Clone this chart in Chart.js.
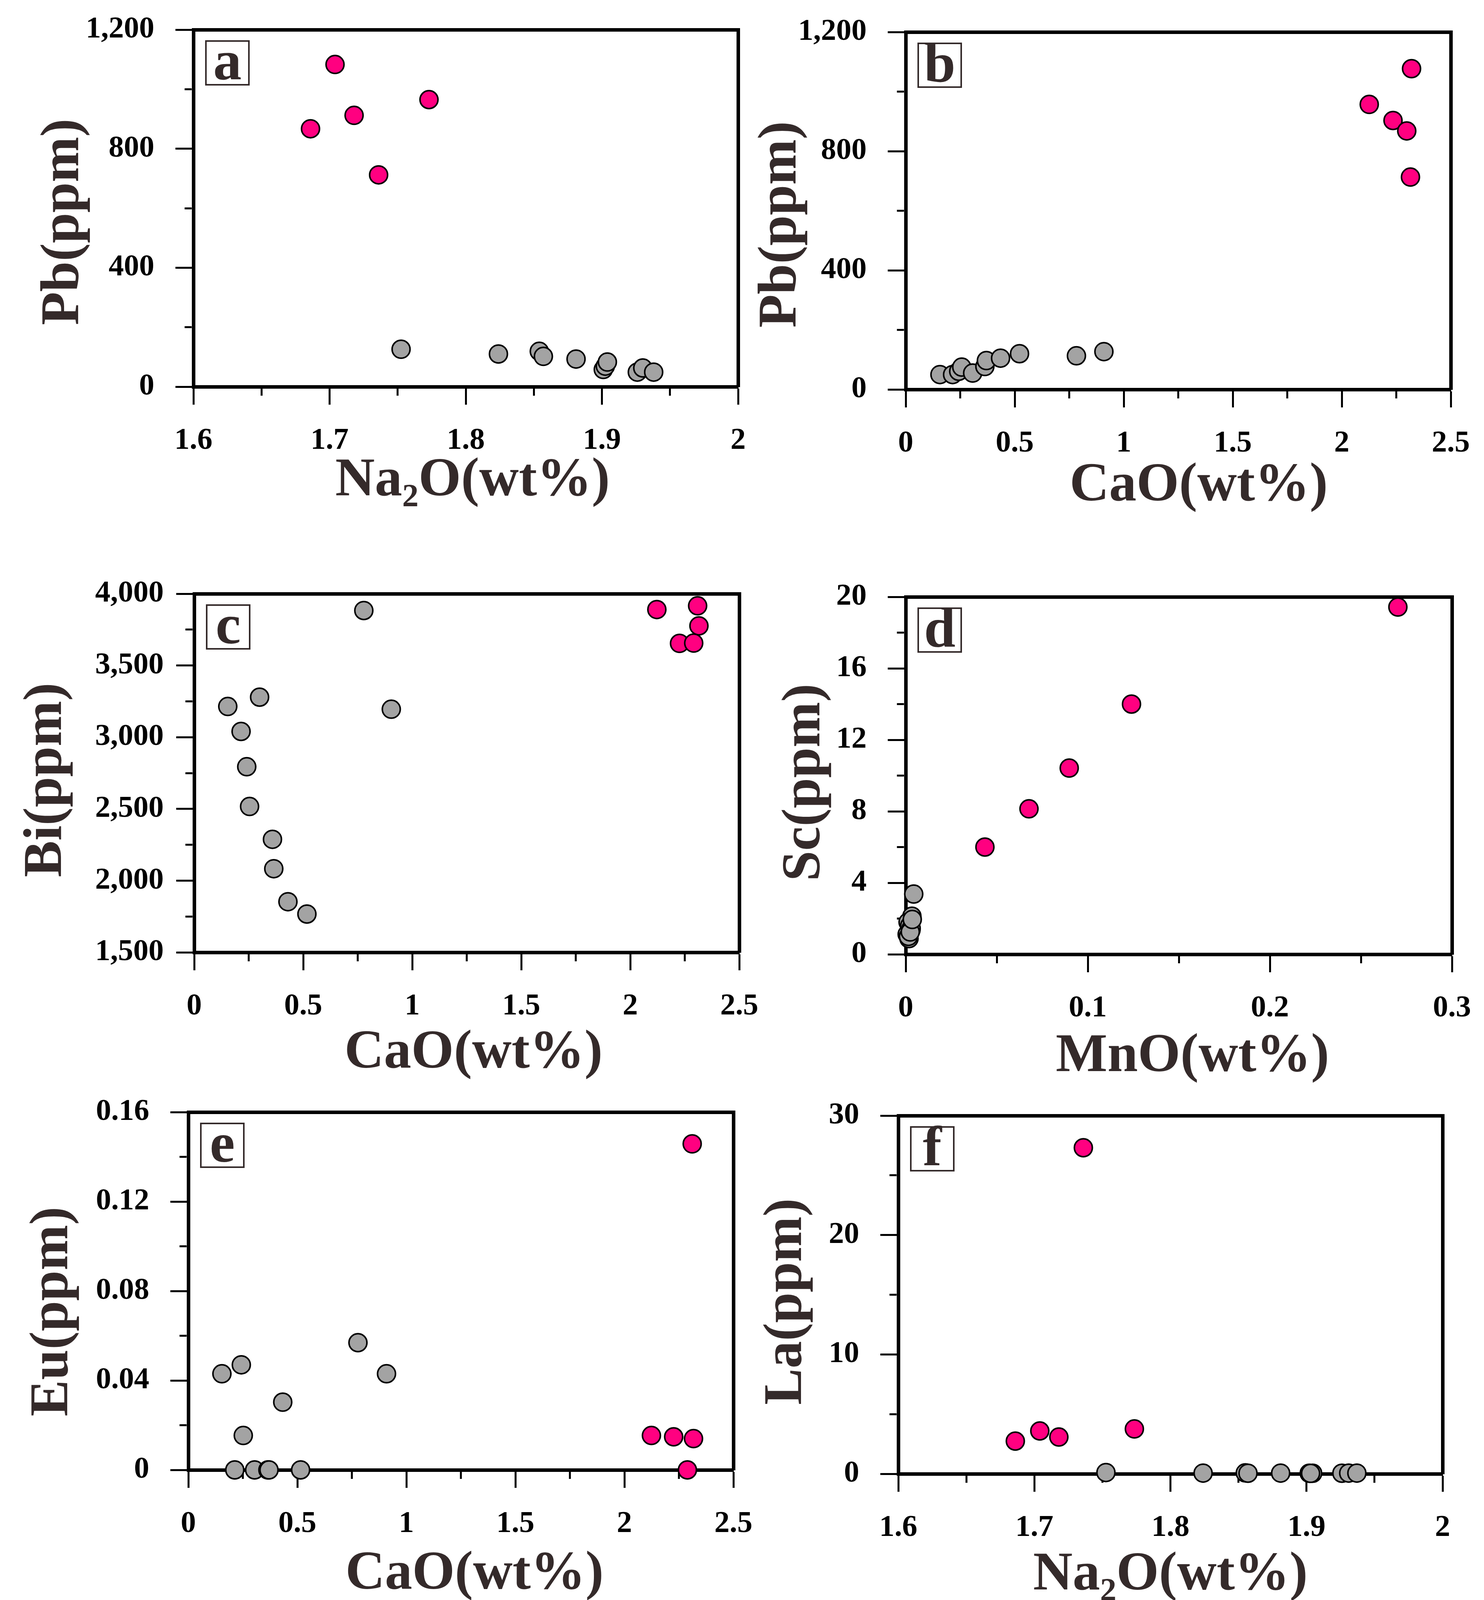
<!DOCTYPE html>
<html lang="en">
<head>
<meta charset="UTF-8">
<title>Pb, Bi, Sc, Eu, La against major oxides</title>
<script src="https://cdn.jsdelivr.net/npm/chart.js"></script>
<style>
  html, body { margin: 0; padding: 0; background: #fff; overflow: hidden; }
  body { width: 3798px; height: 100vh; position: relative; }
  canvas { position: absolute; }
</style>
</head>
<body>
<canvas id="chartA"></canvas>
<canvas id="chartB"></canvas>
<canvas id="chartC"></canvas>
<canvas id="chartD"></canvas>
<canvas id="chartE"></canvas>
<canvas id="chartF"></canvas>

<script>
// values (gray = one sample group, pink = the other)

// tick labels per axis (minor ticks sit halfway between them)
const ticksNa2O = [1.6, 1.7, 1.8, 1.9, 2];
const ticksCaO  = [0, 0.5, 1, 1.5, 2, 2.5];
const ticksMnO  = [0, 0.1, 0.2, 0.3];
const ticksPb   = [0, 400, 800, 1200];
const ticksBi   = [1500, 2000, 2500, 3000, 3500, 4000];
const ticksSc   = [0, 4, 8, 12, 16, 20];
const ticksEu   = [0, 0.04, 0.08, 0.12, 0.16];
const ticksLa   = [0, 10, 20, 30];

// a: Pb vs Na2O
const aNa2oGray = [1.7525, 1.824, 1.854, 1.857, 1.881, 1.901, 1.9025, 1.904, 1.926, 1.930, 1.938];
const aPbGray   = [126, 110, 119, 102, 93, 58, 69, 83, 49, 63, 49];
const aNa2oPink = [1.686, 1.704, 1.718, 1.736, 1.773];
const aPbPink   = [867, 1083, 912, 712, 965];

// b: Pb vs CaO
const bCaoGray = [0.157, 0.215, 0.243, 0.257, 0.307, 0.363, 0.370, 0.435, 0.522, 0.783, 0.909];
const bPbGray  = [50, 50, 61, 75, 55, 77, 97, 105, 120, 113, 127];
const bCaoPink = [2.320, 2.126, 2.235, 2.298, 2.315];
const bPbPink  = [1077, 957, 903, 868, 713];

// c: Bi vs CaO
const cCaoGray = [0.778, 0.300, 0.154, 0.904, 0.215, 0.241, 0.254, 0.359, 0.365, 0.430, 0.517];
const cBiGray  = [3883, 3279, 3214, 3195, 3040, 2794, 2517, 2288, 2083, 1853, 1767];
const cCaoPink = [2.122, 2.309, 2.315, 2.226, 2.291];
const cBiPink  = [3890, 3916, 3776, 3654, 3656];

// d: Sc vs MnO
const dMnoGray = [0.0044, 0.0034, 0.0013, 0.0029, 0.0018, 0.0008, 0.0022, 0.0030, 0.0015, 0.0025, 0.0036];
const dScGray  = [3.37, 2.13, 1.80, 1.36, 0.88, 1.12, 1.60, 1.45, 1.00, 1.25, 1.95];
const dMnoPink = [0.2703, 0.124, 0.0898, 0.0677, 0.0435];
const dScPink  = [19.43, 14.0, 10.42, 8.14, 6.0];

// e: Eu vs CaO
const eCaoGray = [0.154, 0.243, 0.778, 0.909, 0.433, 0.252, 0.213, 0.304, 0.365, 0.515, 0.370];
const eEuGray  = [0.043, 0.047, 0.0569, 0.043, 0.0303, 0.0154, 0, 0, 0, 0, 0];
const eCaoPink = [2.311, 2.124, 2.226, 2.317, 2.289];
const eEuPink  = [0.1458, 0.0154, 0.0148, 0.0140, 0];

// f: La vs Na2O
const fNa2oGray = [1.7526, 1.824, 1.855, 1.857, 1.881, 1.902, 1.9045, 1.926, 1.931, 1.937, 1.903];
const fLaGray   = [0.11, 0.06, 0.08, 0.05, 0.06, 0.05, 0.05, 0.05, 0.06, 0.06, 0.04];
const fNa2oPink = [1.736, 1.686, 1.704, 1.718, 1.7735];
const fLaPink   = [27.31, 2.74, 3.59, 3.08, 3.76];

const PINK = '#ff0080';
const GRAY = '#a3a3a3';
const INK = '#342a2a';
const SERIF = '"Liberation Serif", "Times New Roman", serif';

// the figure is laid out for 4179px of height; squeeze it if the viewport is shorter
const FIG_H = 4179;
const sy = window.innerHeight > 0 ? Math.min(1, window.innerHeight / FIG_H) : 1;

function pts(xs, ys) {
  return xs.map((x, i) => ({ x: x, y: ys[i] }));
}

function withMinor(labels) {
  const out = [];
  labels.forEach((v, i) => {
    if (i > 0) out.push((labels[i - 1] + v) / 2);
    out.push(v);
  });
  return out;
}

function fmt(v) {
  return Math.abs(v) >= 1000 ? v.toLocaleString('en-US') : String(+v.toFixed(3));
}

// boxed panel letter in the upper left of the plot area
const panelTag = {
  id: 'panelTag',
  afterDatasetsDraw(chart, args, opts) {
    const { ctx, chartArea } = chart;
    const x = chartArea.left + 32, y = chartArea.top + 29;
    ctx.save();
    ctx.strokeStyle = INK;
    ctx.lineWidth = 4;
    ctx.strokeRect(x, y, 110, 112);
    ctx.fillStyle = INK;
    ctx.font = 'bold 145px ' + SERIF;
    ctx.textAlign = 'center';
    ctx.textBaseline = 'alphabetic';
    ctx.fillText(opts.text, x + 55, y + 98);
    ctx.restore();
  }
};

function tickAxis(ticks, horizontal, size, tickPad, title) {
  return {
    type: 'linear',
    position: horizontal ? 'bottom' : 'left',
    min: ticks[0],
    max: ticks[ticks.length - 1],
    afterBuildTicks: s => { s.ticks = withMinor(ticks).map(v => ({ value: v })); },
    afterFit: s => { if (horizontal) s.height = size; else s.width = size; },
    ticks: {
      autoSkip: false,
      maxRotation: 0,
      padding: tickPad,
      color: '#000',
      font: { family: SERIF, size: 78, weight: 'bold' },
      callback: (v, i) => (i % 2 ? '' : fmt(v))
    },
    grid: {
      drawOnChartArea: false,
      tickLength: 46,
      tickWidth: 5,
      tickColor: '#000',
      // minor ticks: only the part next to the axis line is drawn
      tickBorderDash: c => (c.index % 2 ? (horizontal ? [18, 100] : [18, 23.5]) : []),
      tickBorderDashOffset: c => (c.index % 2 && !horizontal ? 18 : 0)
    },
    border: { display: true, width: 9, color: '#000' },
    title: {
      display: true,
      text: title,
      color: INK,
      padding: 0,
      font: { family: SERIF, size: 140, weight: 'bold', lineHeight: 1 }
    }
  };
}

function frameAxis(ticks, horizontal) {
  return {
    type: 'linear',
    position: horizontal ? 'top' : 'right',
    min: ticks[0],
    max: ticks[ticks.length - 1],
    afterFit: s => { if (horizontal) s.height = 0; else s.width = 0; },
    ticks: { display: false },
    grid: { drawOnChartArea: false, drawTicks: false },
    border: { display: true, width: 9, color: '#000' }
  };
}

// room above and right of the plot for tick labels that hang over its edges
const PAD_TOP = 120, PAD_RIGHT = 110;

function panel(p) {
  const canvas = document.getElementById(p.id);
  const l = p.area[0], r = p.area[2];
  const t = Math.round(p.area[1] * sy), b = Math.round(p.area[3] * sy);
  const H = Math.round(p.H * sy);
  canvas.width = p.W + (r - l) + PAD_RIGHT;
  canvas.height = PAD_TOP + (b - t) + H;
  canvas.style.left = (l - p.W) + 'px';
  canvas.style.top = (t - PAD_TOP) + 'px';

  const dot = (data, fill) => ({
    data: data,
    pointBackgroundColor: fill,
    pointBorderColor: '#000',
    pointBorderWidth: 4,
    pointRadius: 23,
    pointHoverRadius: 23,
    clip: false
  });

  // leading / trailing spaces nudge the titles the way the original sits
  const xTitle = ' '.repeat(p.xNudge) + p.xTitle;
  const yTitle = p.yTitle + ' '.repeat(p.yNudge);

  new Chart(canvas.getContext('2d'), {
    type: 'scatter',
    data: {
      datasets: [dot(pts(p.gx, p.gy), GRAY), dot(pts(p.px, p.py), PINK)]
    },
    options: {
      responsive: false,
      animation: false,
      devicePixelRatio: 1,
      events: [],
      layout: { padding: { left: 0, top: PAD_TOP, right: PAD_RIGHT, bottom: 0 } },
      scales: {
        x: tickAxis(p.xTicks, true, H, 46, xTitle),
        y: tickAxis(p.yTicks, false, p.W, p.yPad, yTitle),
        xTop: frameAxis(p.xTicks, true),
        yRight: frameAxis(p.yTicks, false)
      },
      plugins: {
        legend: { display: false },
        tooltip: { enabled: false },
        panelTag: { text: p.tag }
      }
    },
    plugins: [panelTag]
  });
}

panel({ id: 'chartA', tag: 'a', area: [495, 78, 1889, 1010], W: 401, H: 318, yPad: 54,
  xTicks: ticksNa2O, yTicks: ticksPb, xTitle: 'Na\u2082O(wt%)', yTitle: 'Pb(ppm)', xNudge: 1, yNudge: 2,
  gx: aNa2oGray, gy: aPbGray, px: aNa2oPink, py: aPbPink });

panel({ id: 'chartB', tag: 'b', area: [2318, 84, 3713, 1017], W: 388, H: 324, yPad: 54,
  xTicks: ticksCaO, yTicks: ticksPb, xTitle: 'CaO(wt%)', yTitle: 'Pb(ppm)', xNudge: 3, yNudge: 2,
  gx: bCaoGray, gy: bPbGray, px: bCaoPink, py: bPbPink });

panel({ id: 'chartC', tag: 'c', area: [497, 1551, 1892, 2487], W: 447, H: 336, yPad: 32,
  xTicks: ticksCaO, yTicks: ticksBi, xTitle: 'CaO(wt%)', yTitle: 'Bi(ppm)', xNudge: 1, yNudge: 1,
  gx: cCaoGray, gy: cBiGray, px: cCaoPink, py: cBiPink });

panel({ id: 'chartD', tag: 'd', area: [2318, 1559, 3716, 2492], W: 327, H: 340, yPad: 54,
  xTicks: ticksMnO, yTicks: ticksSc, xTitle: 'MnO(wt%)', yTitle: 'Sc(ppm)', xNudge: 2, yNudge: 1,
  gx: dMnoGray, gy: dScGray, px: dMnoPink, py: dScPink });

panel({ id: 'chartE', tag: 'e', area: [482, 2905, 1877, 3839], W: 416, H: 345, yPad: 54,
  xTicks: ticksCaO, yTicks: ticksEu, xTitle: 'CaO(wt%)', yTitle: 'Eu(ppm)', xNudge: 2, yNudge: 3,
  gx: eCaoGray, gy: eEuGray, px: eCaoPink, py: eEuPink });

panel({ id: 'chartF', tag: 'f', area: [2299, 2914, 3692, 3849], W: 355, H: 337, yPad: 54,
  xTicks: ticksNa2O, yTicks: ticksLa, xTitle: 'Na\u2082O(wt%)', yTitle: 'La(ppm)', xNudge: 0, yNudge: 1,
  gx: fNa2oGray, gy: fLaGray, px: fNa2oPink, py: fLaPink });
</script>
</body>
</html>
